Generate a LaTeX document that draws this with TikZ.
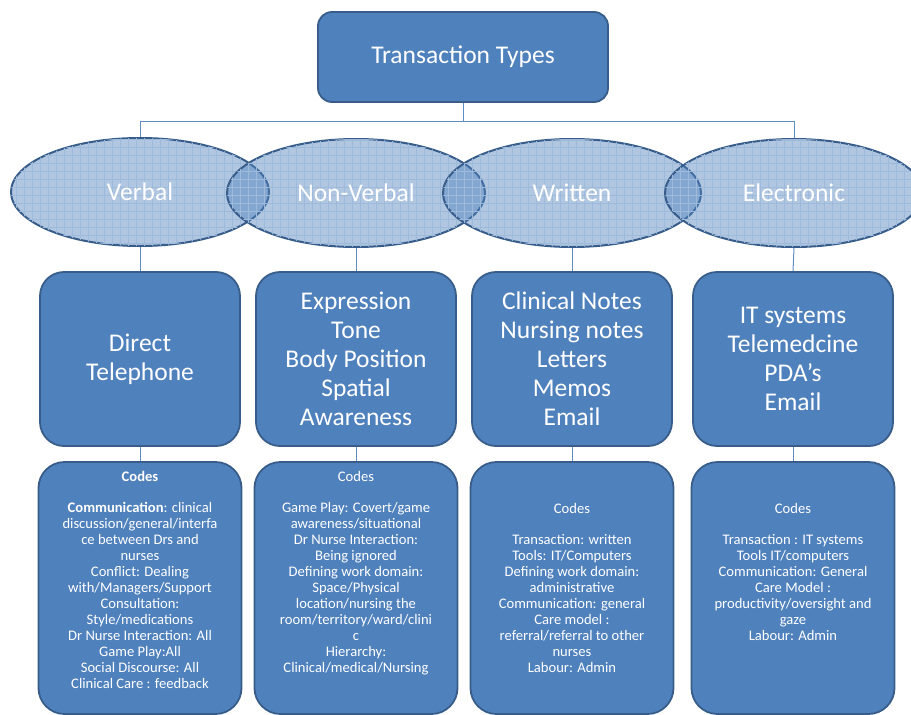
\documentclass[tikz,border=0pt]{standalone}
\usepackage{fontspec}
\setmainfont{Carlito}
\usetikzlibrary{shapes.geometric, positioning, patterns.meta}

\definecolor{boxblue}{RGB}{79,129,189}
\definecolor{edgeblue}{RGB}{56,93,138}
\definecolor{linkblue}{RGB}{96,140,196}

\tikzset{
  titlebox/.style={draw=edgeblue, line width=1.8pt, fill=boxblue, rounded corners=14pt,
    minimum width=290pt, minimum height=90pt, text=white, font=\fontsize{25.5}{30}\selectfont},
  typeoval/.style={ellipse, draw=edgeblue, line width=2pt, fill=boxblue, fill opacity=0.45,
    text opacity=1, minimum width=258pt, minimum height=108pt, inner sep=0pt, text=white,
    font=\fontsize{25.5}{30}\selectfont,
    postaction={pattern={Hatch[angle=0,distance=8pt,line width=0.3pt]}, pattern color=boxblue!55}},
  modebox/.style={draw=edgeblue, line width=1.8pt, fill=boxblue, rounded corners=24pt,
    minimum width=200pt, minimum height=174pt, text=white, align=center,
    font=\fontsize{25.5}{29}\selectfont},
  codebox/.style={draw=edgeblue, line width=1.8pt, fill=boxblue, rounded corners=26pt,
    minimum width=203pt, minimum height=252pt},
  codetext/.style={text=white, align=center, inner sep=0pt, font=\fontsize{14.6}{16}\selectfont},
  link/.style={draw=linkblue, line width=1pt}
}

\begin{document}
\begin{tikzpicture}[x=1pt,y=-1pt]
\useasboundingbox (0,0) rectangle (911,715);

\node[titlebox] (types) at (463,57) {Transaction Types};

\node[typeoval] (verbal) at (140,192) {Verbal};
\node[typeoval] (nonverbal) at (356,193) {Non-Verbal};
\node[typeoval] (written) at (572,193) {Written};
\node[typeoval] (electronic) at (794,193) {Electronic};

\draw[link] (types.south) -- ++(0,19) coordinate (split) -| (verbal.north);
\draw[link] (split) -| (electronic.north);

\node[modebox] (direct) at (140,359) {Direct\\Telephone};
\node[modebox] (body) at (356,359) {Expression\\Tone\\Body Position\\Spatial\\Awareness};
\node[modebox] (notes) at (572,359) {Clinical Notes\\Nursing notes\\Letters\\Memos\\Email};
\node[modebox] (systems) at (793,359) {IT systems\\Telemedcine\\PDA's\\Email};

\draw[link] (verbal.south) -- (direct.north);
\draw[link] (nonverbal.south) -- (body.north);
\draw[link] (written.south) -- (notes.north);
\draw[link] (electronic.south) -- (systems.north);

\node[codebox] (vcodes) at (140,588) {};
\node[codebox] (nvcodes) at (356,588) {};
\node[codebox] (wcodes) at (572,588) {};
\node[codebox] (ecodes) at (793,588) {};

\draw[link] (direct.south) -- (vcodes.north);
\draw[link] (body.south) -- (nvcodes.north);
\draw[link] (notes.south) -- (wcodes.north);
\draw[link] (systems.south) -- (ecodes.north);

\node[codetext, below=10pt of vcodes.north] (vlist) {\textbf{Codes}\\[15pt]
  \textbf{Communication}: clinical\\discussion/general/interfa\\ce between Drs and\\nurses\\
  Conflict: Dealing\\with/Managers/Support\\Consultation:\\Style/medications\\
  Dr Nurse Interaction: All\\Game Play:All\\Social Discourse: All\\Clinical Care : feedback};
\node[codetext, below=10pt of nvcodes.north] (nvlist) {Codes\\[15pt]
  Game Play: Covert/game\\awareness/situational\\Dr Nurse Interaction:\\Being ignored\\
  Defining work domain:\\Space/Physical\\location/nursing the\\room/territory/ward/clini\\c\\
  Hierarchy:\\Clinical/medical/Nursing};
\node[codetext, below=42pt of wcodes.north] (wlist) {Codes\\[15pt]
  Transaction: written\\Tools: IT/Computers\\Defining work domain:\\administrative\\
  Communication: general\\Care model :\\referral/referral to other\\nurses\\Labour: Admin};
\node[codetext, below=42pt of ecodes.north] (elist) {Codes\\[15pt]
  Transaction : IT systems\\Tools IT/computers\\Communication: General\\Care Model :\\
  productivity/oversight and\\gaze\\Labour: Admin};
\end{tikzpicture}
\end{document}
